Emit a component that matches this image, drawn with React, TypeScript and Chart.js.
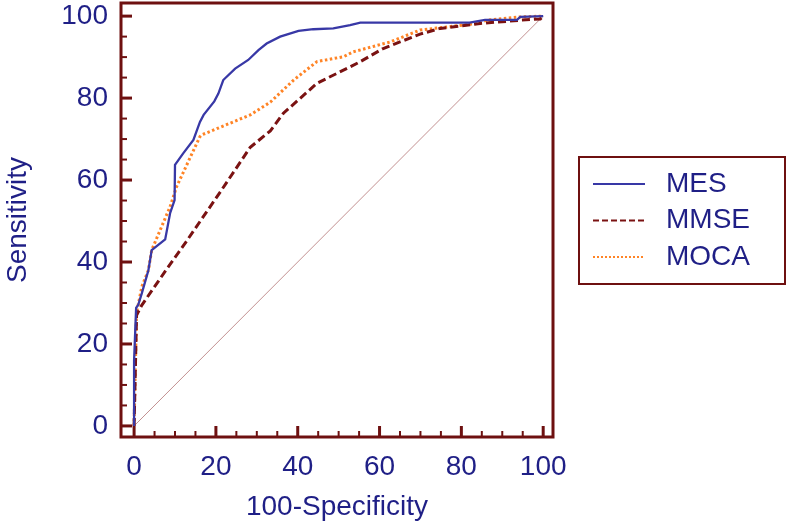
import React, { useEffect, useRef } from "react";
import { Chart, registerables } from "chart.js";

Chart.register(...registerables);

// ---------- data ----------
const seriesNames = ["MES", "MMSE", "MOCA"];

const mesX = [0, 0, 0.5, 1.0, 1.9, 3.5, 4.3, 7.6, 8.8, 9.9, 10.0, 12.0, 14.5, 16.1, 17.0, 19.6, 20.6, 21.8, 24.7, 27.9, 30.4, 32.4, 35.7, 40.2, 43.8, 48.7, 52.8, 55.3, 82, 85.8, 93.6, 94.4, 100];
const mesY = [0, 16, 28.8, 29.5, 32.4, 38, 42.9, 45.5, 51.9, 55.1, 63.7, 66.5, 69.8, 74.2, 75.9, 79.2, 81.1, 84.4, 87.2, 89.3, 91.7, 93.3, 95, 96.4, 96.8, 97, 97.8, 98.4, 98.4, 99.1, 99.1, 99.8, 100];

const mmseX = [0, 0.6, 1.9, 8.0, 12.9, 21.0, 28.4, 33.3, 36.5, 44.7, 47.9, 52.8, 55.3, 60.9, 69.9, 74.8, 84.6, 94.4, 99.3, 100];
const mmseY = [0, 27.0, 29.5, 38.3, 45.2, 57.0, 68.0, 72.0, 76.3, 83.6, 85.2, 87.6, 88.9, 92.1, 95.6, 97.0, 98.2, 99.0, 99.3, 100];

const mocaX = [0, 0.6, 1.9, 3.5, 4.3, 8.8, 10.4, 16.1, 16.5, 28.4, 33.3, 39.0, 44.7, 51.2, 53.6, 62.6, 69.9, 83.8, 86.2, 94.4, 100];
const mocaY = [0, 27.5, 34.0, 38.0, 42.9, 53.5, 58.4, 70.6, 71.0, 75.9, 79.0, 84.4, 88.9, 90.1, 91.3, 93.7, 96.6, 98.2, 99.0, 99.8, 100];

const diagX = [0, 100];
const diagY = [0, 100];

const tickValues = [0, 20, 40, 60, 80, 100];
const minorTickValues = [0, 5, 10, 15, 20, 25, 30, 35, 40, 45, 50, 55, 60, 65, 70, 75, 80, 85, 90, 95, 100];

const xTitle = "100-Specificity";
const yTitle = "Sensitivity";

// ---------- styles ----------
const FONT = '"Liberation Sans", Arial, sans-serif';
const TEXT_COLOR = "#1f1f86";
const FRAME_COLOR = "#6e1010";
const MES_COLOR = "#3838a6";
const MMSE_COLOR = "#7a1212";
const MOCA_COLOR = "#ff8426";
const DIAG_COLOR = "#c29090";

const toPoints = (xs: number[], ys: number[]) => xs.map((x, i) => ({ x, y: ys[i] }));

const frameTicksPlugin = {
  id: "frameTicks",
  afterDatasetsDraw(chart: any) {
    const { ctx, chartArea: a, scales } = chart;
    const xs = scales.x;
    const ys = scales.y;
    ctx.save();
    ctx.strokeStyle = FRAME_COLOR;
    ctx.lineCap = "butt";
    for (const v of minorTickValues) {
      const major = tickValues.includes(v);
      const len = major ? 11 : 6;
      ctx.lineWidth = major ? 3 : 2;
      const px = xs.getPixelForValue(v);
      ctx.beginPath();
      ctx.moveTo(px, a.bottom);
      ctx.lineTo(px, a.bottom - len);
      ctx.stroke();
      const py = ys.getPixelForValue(v);
      ctx.beginPath();
      ctx.moveTo(a.left, py);
      ctx.lineTo(a.left + len, py);
      ctx.stroke();
    }
    ctx.lineWidth = 3;
    ctx.strokeRect(a.left, a.top, a.right - a.left, a.bottom - a.top);
    ctx.restore();
  },
};

const boxLegendPlugin = {
  id: "boxLegend",
  afterDraw(chart: any) {
    const { ctx, chartArea: a } = chart;
    const items = chart.data.datasets.filter((d: any) => seriesNames.includes(d.label));
    const left = a.right + 26;
    const top = 157;
    const width = 206;
    const height = 127;
    ctx.save();
    ctx.strokeStyle = FRAME_COLOR;
    ctx.lineWidth = 2;
    ctx.strokeRect(left, top, width, height);
    ctx.font = `28px ${FONT}`;
    ctx.textBaseline = "middle";
    ctx.textAlign = "left";
    items.forEach((d: any, i: number) => {
      const y = top + 27 + i * 36.5;
      ctx.strokeStyle = d.borderColor;
      ctx.lineWidth = 2;
      ctx.setLineDash(d.legendDash || []);
      ctx.beginPath();
      ctx.moveTo(left + 14, y);
      ctx.lineTo(left + 66, y);
      ctx.stroke();
      ctx.setLineDash([]);
      ctx.fillStyle = TEXT_COLOR;
      ctx.fillText(d.label, left + 87, y);
    });
    ctx.restore();
  },
};

export default function App() {
  const canvasRef = useRef<HTMLCanvasElement | null>(null);

  useEffect(() => {
    if (!canvasRef.current) return;
    const chart = new Chart(canvasRef.current, {
      type: "line",
      data: {
        datasets: [
          {
            label: "MES",
            data: toPoints(mesX, mesY),
            borderColor: MES_COLOR,
            borderWidth: 2.3,
            pointRadius: 0,
            tension: 0,
            fill: false,
            order: 1,
          } as any,
          {
            label: "MMSE",
            data: toPoints(mmseX, mmseY),
            borderColor: MMSE_COLOR,
            borderWidth: 3,
            borderDash: [8, 4],
            legendDash: [6, 3],
            pointRadius: 0,
            tension: 0,
            fill: false,
            order: 2,
          },
          {
            label: "MOCA",
            data: toPoints(mocaX, mocaY),
            borderColor: MOCA_COLOR,
            borderWidth: 3,
            borderDash: [2.5, 2.5],
            legendDash: [2, 2],
            pointRadius: 0,
            tension: 0,
            fill: false,
            order: 3,
          },
          {
            label: "diagonal",
            data: toPoints(diagX, diagY),
            borderColor: DIAG_COLOR,
            borderWidth: 1,
            pointRadius: 0,
            tension: 0,
            fill: false,
            order: 4,
          },
        ],
      },
      options: {
        responsive: false,
        animation: false,
        layout: { padding: { left: 0, top: 3, right: 234, bottom: 0 } },
        plugins: {
          legend: { display: false },
          tooltip: { enabled: false },
          title: { display: false },
        },
        scales: {
          x: {
            type: "linear",
            min: -3.2,
            max: 102.4,
            afterBuildTicks: (s: any) => {
              s.ticks = tickValues.map((v) => ({ value: v }));
            },
            afterFit: (s: any) => {
              s.height = 93;
              s.paddingLeft = 0;
              s.paddingRight = 0;
            },
            grid: { display: false, drawTicks: false },
            border: { display: false },
            ticks: {
              color: TEXT_COLOR,
              font: { family: FONT, size: 28 },
              padding: 13,
              maxRotation: 0,
              autoSkip: false,
            },
            title: {
              display: true,
              text: xTitle,
              color: TEXT_COLOR,
              font: { family: FONT, size: 28 },
              padding: { top: 0, bottom: 6 },
            },
          },
          y: {
            type: "linear",
            min: -2.7,
            max: 103.2,
            afterBuildTicks: (s: any) => {
              s.ticks = tickValues.map((v) => ({ value: v }));
            },
            afterFit: (s: any) => {
              s.width = 121;
              s.paddingTop = 0;
              s.paddingBottom = 0;
            },
            grid: { display: false, drawTicks: false },
            border: { display: false },
            ticks: {
              color: TEXT_COLOR,
              font: { family: FONT, size: 28 },
              padding: 13,
              autoSkip: false,
            },
            title: {
              display: true,
              text: yTitle,
              color: TEXT_COLOR,
              font: { family: FONT, size: 28 },
              padding: { top: 1, bottom: 0 },
            },
          },
        },
      },
      plugins: [frameTicksPlugin, boxLegendPlugin],
    });
    return () => chart.destroy();
  }, []);

  return (
    <div style={{ position: "absolute", left: 0, top: 0, width: 787, height: 530, background: "#ffffff" }}>
      <canvas ref={canvasRef} width={787} height={530} style={{ display: "block" }} />
    </div>
  );
}
